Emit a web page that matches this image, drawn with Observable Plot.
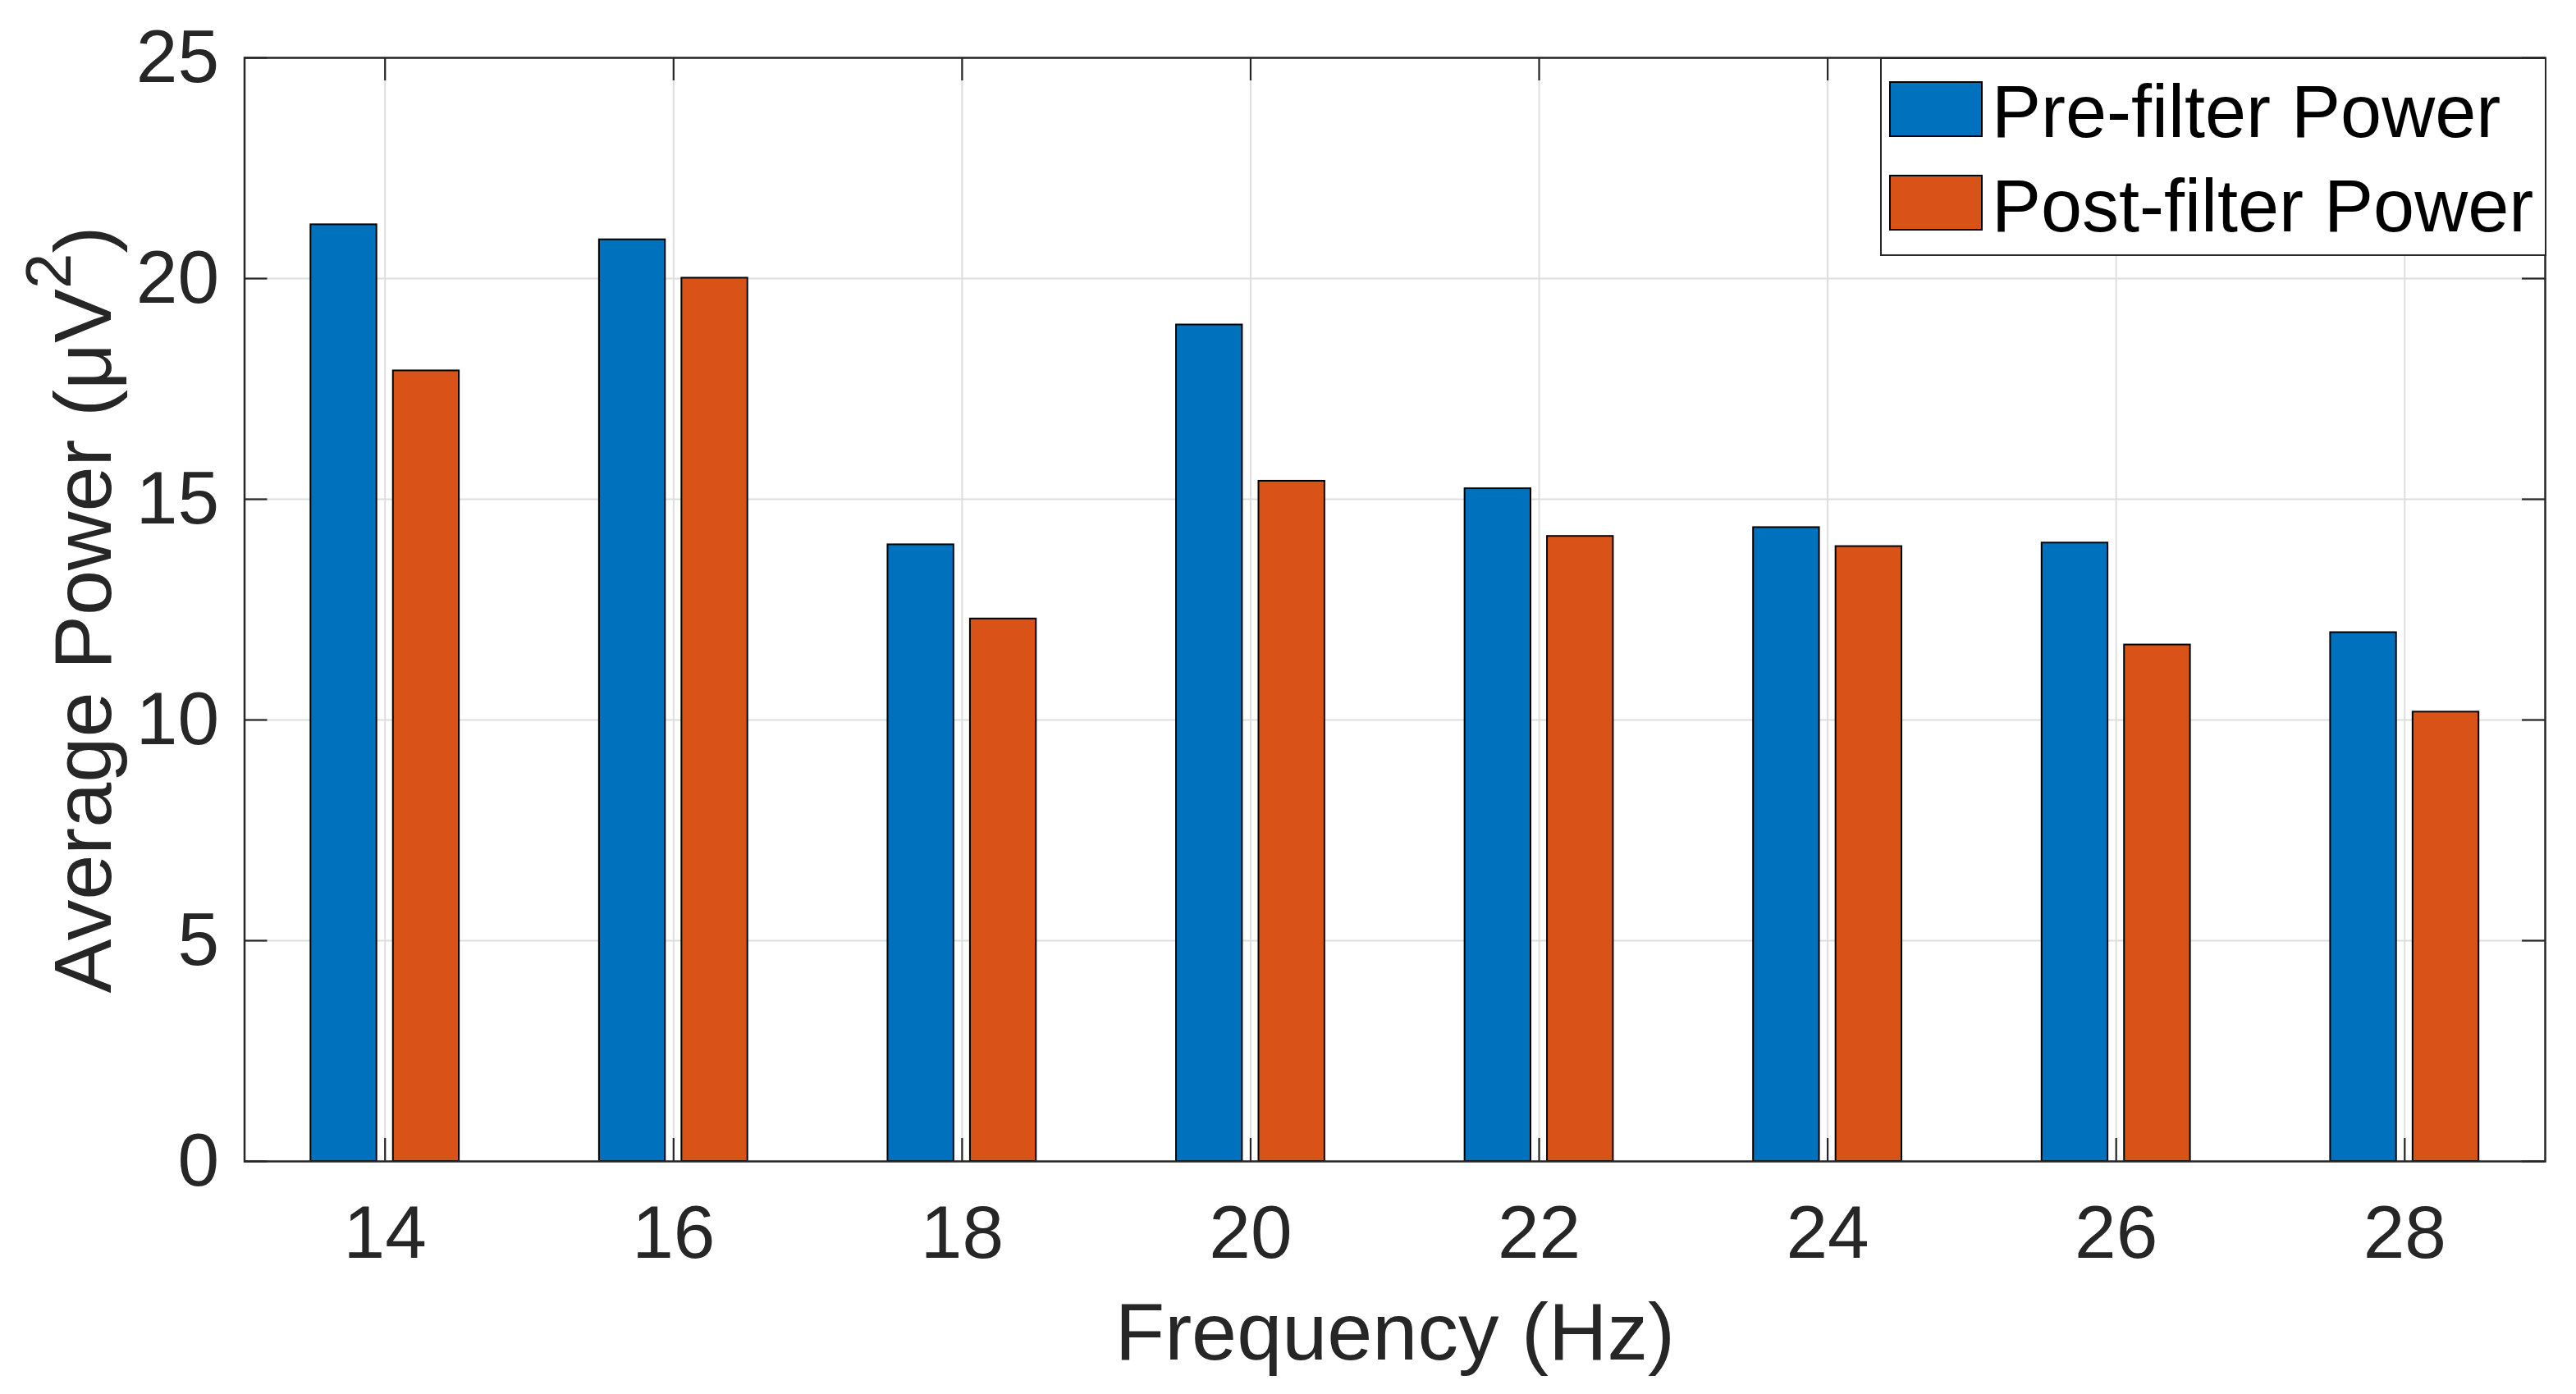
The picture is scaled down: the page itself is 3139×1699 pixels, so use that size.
<!DOCTYPE html>
<html>
<head>
<meta charset="utf-8">
<script src="https://cdn.jsdelivr.net/npm/d3@7"></script>
<script src="https://cdn.jsdelivr.net/npm/@observablehq/plot@0.6"></script>
<style>
  html, body { margin: 0; padding: 0; background: #fff; }
  #wrap { position: relative; width: 3139px; height: 1699px; }
  #legend {
    position: absolute; left: 2291px; top: 70px; width: 808px; height: 238px;
    border: 2.5px solid #262626; background: #fff; box-sizing: content-box;
    font-family: "Liberation Sans", Arial, sans-serif; font-size: 90px; color: #000;
  }
  .sw { position: absolute; left: 9px; width: 114px; height: 68px; border: 2px solid #000; box-sizing: border-box; }
  .lbl { position: absolute; left: 134px; line-height: 1; white-space: nowrap; }
</style>
</head>
<body>
<div id="wrap"></div>
<script>
const frequencies = [14, 16, 18, 20, 22, 24, 26, 28];
const preFilter  = [21.22, 20.88, 13.97, 18.95, 15.24, 14.36, 14.01, 11.98];
const postFilter = [17.91, 20.01, 12.29, 15.41, 14.16, 13.93, 11.70, 10.18];
const yTicks = [0, 5, 10, 15, 20, 25];
const seriesNames = ["Pre-filter Power", "Post-filter Power"];
const seriesColors = ["#0072BD", "#D95319"];
const xLabel = "Frequency (Hz)";
const yLabelMain = "Average Power (μV";
const yLabelSup = "2";
const yLabelEnd = ")";

const W = 3139, H = 1699;
const mL = 297.5, mR = 38, mT = 70, mB = 284;
const plotW = W - mL - mR, plotH = H - mT - mB;

// MATLAB grouped bar geometry (2 series): offset ±0.2857, width 0.457 (units of x)
const groupWidth = Math.min(0.8, 2 / (2 + 1.5));
const offs = [-groupWidth / 2, groupWidth / 2];
const halfW = 0.8 * groupWidth / 2;

const rows = frequencies.flatMap((f, i) => [
  {freq: f, s: 0, value: preFilter[i]},
  {freq: f, s: 1, value: postFilter[i]}
]);

const gridColor = "#dedede";
const axisColor = "#262626";

const chart = Plot.plot({
  width: W, height: H,
  marginLeft: mL, marginRight: mR, marginTop: mT, marginBottom: mB,
  style: {fontFamily: "'Liberation Sans', Arial, sans-serif", fontSize: "90px", color: axisColor, background: "#fff"},
  x: {type: "linear", domain: [13.026, 28.974], label: null},
  y: {domain: [0, 25], label: null},
  marks: [
    Plot.gridY(yTicks, {stroke: gridColor, strokeOpacity: 1, strokeWidth: 2}),
    Plot.gridX(frequencies, {stroke: gridColor, strokeOpacity: 1, strokeWidth: 2}),
    ...[0, 1].map(s => Plot.rect(rows.filter(d => d.s === s), {
      x1: d => d.freq + offs[s] - halfW,
      x2: d => d.freq + offs[s] + halfW,
      y1: 0, y2: "value",
      fill: seriesColors[s], stroke: "#000", strokeWidth: 2
    })),
    // inward ticks on all four sides
    Plot.tickY(yTicks, {y: d => d, insetRight: plotW - 28, stroke: axisColor, strokeWidth: 2.2}),
    Plot.tickY(yTicks, {y: d => d, insetLeft: plotW - 28, stroke: axisColor, strokeWidth: 2.2}),
    Plot.tickX(frequencies, {x: d => d, insetTop: plotH - 28, stroke: axisColor, strokeWidth: 2.2}),
    Plot.tickX(frequencies, {x: d => d, insetBottom: plotH - 28, stroke: axisColor, strokeWidth: 2.2}),
    Plot.axisY(yTicks, {anchor: "left", tickSize: 0, tickPadding: 31, label: null, tickFormat: d => String(d), fontSize: 91, fill: axisColor}),
    Plot.axisX(frequencies, {anchor: "bottom", tickSize: 0, tickPadding: 53, label: null, tickFormat: d => String(d), fontSize: 91, fill: axisColor}),
    Plot.frame({stroke: axisColor, strokeWidth: 2.5}),
    Plot.text([xLabel], {text: d => d, frameAnchor: "bottom", lineAnchor: "bottom", textAnchor: "middle", dy: 241, fontSize: 99, fill: axisColor}),
    Plot.text([yLabelMain + yLabelSup + yLabelEnd], {text: d => d, frameAnchor: "left", lineAnchor: "bottom", textAnchor: "middle", rotate: -90, dx: -163.5, fontSize: 99, fill: axisColor, className: "ylab"})
  ]
});

// turn the "2" of the y label into a real superscript
const ylab = chart.querySelector(".ylab text");
if (ylab) {
  const ns = "http://www.w3.org/2000/svg";
  ylab.textContent = yLabelMain;
  const sup = document.createElementNS(ns, "tspan");
  sup.setAttribute("font-size", "78");
  sup.setAttribute("baseline-shift", "49");
  sup.textContent = yLabelSup;
  const end = document.createElementNS(ns, "tspan");
  end.textContent = yLabelEnd;
  ylab.appendChild(sup);
  ylab.appendChild(end);
}

const wrap = document.getElementById("wrap");
wrap.appendChild(chart);

const legend = document.createElement("div");
legend.id = "legend";
const swTops = [26.5, 140.5];
const lblTops = [19, 133.7];
seriesNames.forEach((name, i) => {
  const sw = document.createElement("div");
  sw.className = "sw";
  sw.style.top = swTops[i] + "px";
  sw.style.background = seriesColors[i];
  const lbl = document.createElement("span");
  lbl.className = "lbl";
  lbl.style.top = lblTops[i] + "px";
  lbl.textContent = name;
  legend.appendChild(sw);
  legend.appendChild(lbl);
});
wrap.appendChild(legend);
</script>
</body>
</html>
